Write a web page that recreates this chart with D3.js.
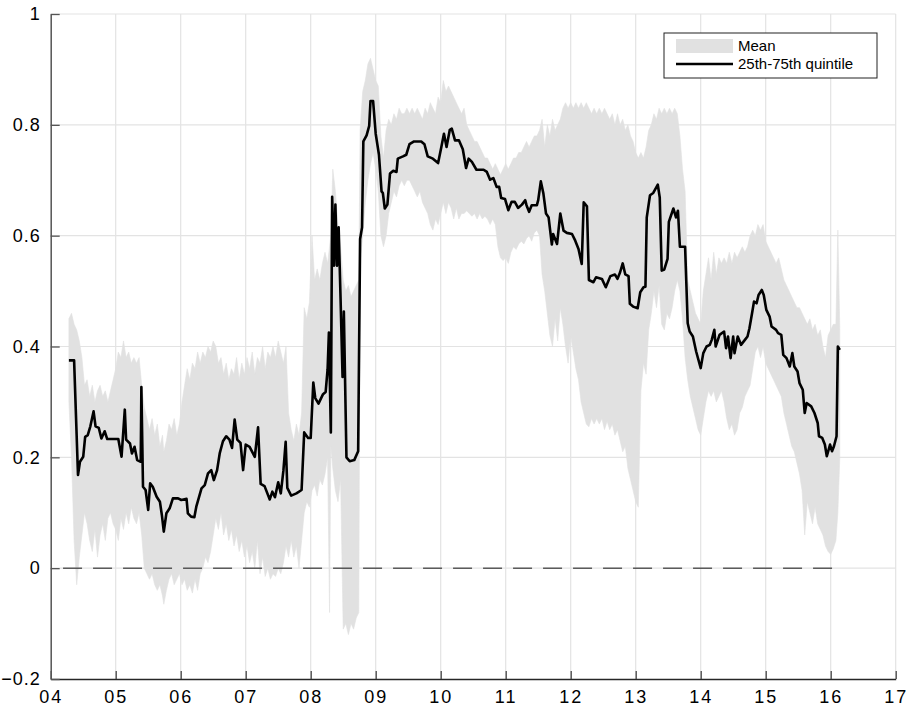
<!DOCTYPE html>
<html>
<head>
<meta charset="utf-8">
<script src="https://cdnjs.cloudflare.com/ajax/libs/d3/7.8.5/d3.min.js"></script>
<style>
  body { margin: 0; background: #fff; }
  svg text { font-family: "Liberation Sans", Arial, sans-serif; }
</style>
</head>
<body>
<div id="chart"></div>
<script>
// black line (decimal years / value)
var lineYears = [
  2004.28,2004.36,2004.42,2004.45,2004.50,2004.53,2004.57,2004.61,2004.66,2004.69,2004.74,2004.78,2004.83,2004.87,
  2005.04,2005.09,2005.14,2005.16,2005.22,2005.25,2005.29,2005.33,2005.385,2005.395,2005.42,2005.46,2005.50,2005.53,
  2005.57,2005.63,2005.68,2005.71,2005.74,2005.78,2005.83,2005.88,2005.96,2006.01,2006.09,2006.11,2006.16,2006.21,
  2006.24,2006.32,2006.37,2006.42,2006.47,2006.51,2006.56,2006.60,2006.65,2006.70,2006.75,2006.79,2006.83,2006.87,
  2006.92,2006.96,2007.00,2007.06,2007.14,2007.19,2007.23,2007.29,2007.37,2007.41,2007.45,2007.50,2007.54,2007.58,
  2007.615,2007.64,2007.70,2007.78,2007.86,2007.90,2007.96,2008.00,2008.04,2008.07,2008.12,2008.19,2008.23,2008.26,
  2008.28,2008.31,2008.33,2008.36,2008.38,2008.405,2008.43,2008.46,2008.49,2008.51,2008.55,2008.60,2008.67,2008.73,
  2008.76,2008.79,2008.81,2008.86,2008.90,2008.92,2008.96,2009.00,2009.05,2009.09,2009.11,2009.14,2009.18,2009.22,
  2009.27,2009.32,2009.34,2009.42,2009.47,2009.52,2009.59,2009.70,2009.75,2009.80,2009.88,2009.96,2010.01,2010.05,
  2010.09,2010.14,2010.17,2010.22,2010.28,2010.34,2010.39,2010.43,2010.48,2010.55,2010.66,2010.71,2010.76,2010.81,
  2010.86,2010.90,2010.93,2010.99,2011.04,2011.09,2011.14,2011.19,2011.25,2011.30,2011.32,2011.36,2011.40,2011.48,
  2011.50,2011.54,2011.58,2011.62,2011.66,2011.71,2011.73,2011.79,2011.84,2011.89,2011.94,2012.02,2012.07,2012.12,
  2012.17,2012.20,2012.25,2012.28,2012.35,2012.39,2012.48,2012.54,2012.61,2012.68,2012.72,2012.76,2012.80,2012.84,
  2012.89,2012.91,2012.96,2013.03,2013.07,2013.12,2013.15,2013.17,2013.22,2013.27,2013.34,2013.37,2013.40,2013.44,
  2013.49,2013.51,2013.58,2013.62,2013.65,2013.68,2013.76,2013.80,2013.83,2013.88,2013.93,2014.00,2014.04,2014.09,
  2014.14,2014.17,2014.21,2014.23,2014.29,2014.36,2014.39,2014.42,2014.46,2014.50,2014.52,2014.57,2014.62,2014.68,
  2014.72,2014.75,2014.79,2014.82,2014.86,2014.89,2014.94,2014.97,2015.01,2015.06,2015.09,2015.16,2015.19,2015.24,
  2015.27,2015.32,2015.37,2015.41,2015.44,2015.49,2015.52,2015.57,2015.60,2015.63,2015.70,2015.75,2015.80,2015.82,
  2015.87,2015.91,2015.94,2015.99,2016.02,2016.05,2016.09,2016.11,2016.14
];
var lineValues = [
  0.375,0.375,0.168,0.192,0.201,0.237,0.240,0.256,0.283,0.256,0.253,0.234,0.247,0.233,
  0.233,0.201,0.286,0.232,0.225,0.207,0.219,0.195,0.192,0.327,0.147,0.141,0.105,0.153,
  0.147,0.129,0.120,0.096,0.066,0.099,0.108,0.126,0.126,0.123,0.125,0.099,0.093,0.092,
  0.111,0.144,0.150,0.171,0.177,0.159,0.177,0.207,0.229,0.238,0.232,0.217,0.268,0.232,
  0.226,0.177,0.223,0.219,0.201,0.254,0.152,0.148,0.124,0.138,0.128,0.155,0.135,0.176,
  0.228,0.145,0.131,0.135,0.141,0.245,0.235,0.235,0.335,0.307,0.297,0.314,0.318,0.359,
  0.425,0.245,0.670,0.546,0.656,0.546,0.615,0.484,0.345,0.463,0.200,0.193,0.195,0.211,
  0.594,0.615,0.770,0.781,0.798,0.843,0.843,0.784,0.746,0.680,0.677,0.649,0.656,0.712,
  0.717,0.715,0.739,0.743,0.746,0.765,0.770,0.770,0.765,0.743,0.739,0.731,0.760,0.784,
  0.760,0.791,0.793,0.772,0.772,0.756,0.722,0.739,0.733,0.719,0.719,0.715,0.701,0.704,
  0.688,0.688,0.668,0.666,0.646,0.661,0.661,0.650,0.656,0.664,0.655,0.643,0.655,0.655,
  0.664,0.698,0.676,0.640,0.633,0.584,0.603,0.585,0.640,0.609,0.605,0.603,0.591,0.576,
  0.549,0.660,0.653,0.520,0.516,0.525,0.522,0.507,0.527,0.530,0.522,0.534,0.550,0.530,
  0.527,0.477,0.472,0.469,0.498,0.507,0.508,0.633,0.673,0.677,0.692,0.669,0.537,0.539,
  0.558,0.625,0.649,0.633,0.645,0.580,0.580,0.442,0.427,0.418,0.391,0.361,0.388,0.400,
  0.403,0.412,0.430,0.400,0.421,0.427,0.397,0.418,0.379,0.418,0.388,0.418,0.403,0.412,
  0.418,0.433,0.460,0.481,0.478,0.493,0.502,0.493,0.466,0.454,0.436,0.430,0.424,0.421,
  0.385,0.379,0.364,0.388,0.364,0.355,0.334,0.322,0.280,0.298,0.292,0.280,0.262,0.238,
  0.235,0.223,0.202,0.223,0.211,0.220,0.238,0.400,0.394
];

// grey band (decimal years / lower / upper)
var bandYears = [
  2004.28,2004.32,2004.36,2004.40,2004.44,2004.48,2004.52,2004.56,2004.60,2004.64,2004.68,2004.72,2004.76,2004.80,
  2004.84,2004.88,2004.92,2004.96,2005.00,2005.04,2005.08,2005.12,2005.16,2005.20,2005.24,2005.28,2005.32,2005.36,
  2005.40,2005.44,2005.48,2005.52,2005.56,2005.60,2005.64,2005.68,2005.72,2005.74,2005.78,2005.82,2005.86,2005.90,
  2005.94,2005.98,2006.02,2006.06,2006.10,2006.14,2006.18,2006.22,2006.26,2006.30,2006.34,2006.38,2006.42,2006.46,
  2006.50,2006.54,2006.58,2006.62,2006.66,2006.70,2006.74,2006.78,2006.82,2006.86,2006.90,2006.94,2006.98,2007.02,
  2007.06,2007.10,2007.14,2007.18,2007.22,2007.26,2007.30,2007.34,2007.38,2007.42,2007.46,2007.50,2007.54,2007.58,
  2007.62,2007.66,2007.70,2007.74,2007.78,2007.82,2007.86,2007.90,2007.94,2007.98,2008.02,2008.06,2008.10,2008.14,
  2008.18,2008.22,2008.26,2008.29,2008.31,2008.34,2008.38,2008.42,2008.46,2008.50,2008.54,2008.58,2008.62,2008.66,
  2008.70,2008.74,2008.76,2008.80,2008.84,2008.88,2008.92,2008.96,2009.00,2009.04,2009.08,2009.12,2009.16,2009.20,
  2009.24,2009.28,2009.32,2009.36,2009.40,2009.44,2009.48,2009.52,2009.56,2009.60,2009.64,2009.68,2009.72,2009.76,
  2009.80,2009.84,2009.88,2009.92,2009.96,2010.00,2010.04,2010.08,2010.12,2010.16,2010.20,2010.24,2010.28,2010.32,
  2010.36,2010.40,2010.44,2010.48,2010.52,2010.56,2010.60,2010.64,2010.68,2010.72,2010.76,2010.80,2010.84,2010.88,
  2010.92,2010.96,2011.00,2011.04,2011.08,2011.12,2011.16,2011.20,2011.24,2011.28,2011.32,2011.36,2011.40,2011.44,
  2011.48,2011.52,2011.56,2011.60,2011.64,2011.68,2011.72,2011.76,2011.80,2011.84,2011.88,2011.92,2011.96,2012.00,
  2012.04,2012.08,2012.12,2012.16,2012.20,2012.24,2012.28,2012.32,2012.36,2012.40,2012.44,2012.48,2012.52,2012.56,
  2012.60,2012.64,2012.68,2012.72,2012.76,2012.80,2012.84,2012.88,2012.92,2012.96,2013.00,2013.04,2013.08,2013.12,
  2013.16,2013.20,2013.24,2013.28,2013.32,2013.36,2013.40,2013.44,2013.48,2013.52,2013.56,2013.60,2013.64,2013.68,
  2013.72,2013.76,2013.80,2013.84,2013.88,2013.92,2013.96,2014.00,2014.04,2014.08,2014.12,2014.16,2014.20,2014.24,
  2014.28,2014.32,2014.36,2014.40,2014.44,2014.48,2014.52,2014.56,2014.60,2014.64,2014.68,2014.72,2014.76,2014.80,
  2014.84,2014.88,2014.92,2014.96,2015.00,2015.04,2015.08,2015.12,2015.16,2015.20,2015.24,2015.28,2015.32,2015.36,
  2015.40,2015.44,2015.48,2015.52,2015.56,2015.60,2015.64,2015.68,2015.72,2015.76,2015.80,2015.84,2015.88,2015.92,
  2015.96,2016.00,2016.04,2016.08,2016.11,2016.14
];
var bandLow = [
  0.30,0.20,0.05,-0.03,0.02,0.06,0.10,0.08,0.05,0.03,0.07,0.02,0.06,0.08,
  0.05,0.09,0.10,0.08,0.07,0.05,0.09,0.07,0.10,0.08,0.11,0.09,0.08,0.10,
  0.06,0.00,-0.01,-0.02,-0.01,-0.03,-0.04,-0.03,-0.05,-0.065,-0.04,-0.02,-0.01,-0.03,
  -0.02,-0.01,-0.03,-0.02,-0.04,-0.03,-0.045,-0.02,-0.04,-0.01,0.00,0.02,0.01,0.03,
  0.06,0.09,0.07,0.10,0.06,0.08,0.05,0.07,0.04,0.06,0.03,0.05,0.02,0.04,
  0.01,0.03,0.00,0.05,-0.01,0.02,-0.015,0.00,-0.02,-0.01,-0.015,0.00,-0.01,0.01,
  0.04,0.02,0.05,0.02,0.04,0.00,0.05,0.10,0.12,0.11,0.14,0.15,0.13,0.16,
  0.15,0.17,0.20,-0.08,0.22,0.18,0.14,0.12,0.16,-0.11,-0.10,-0.12,-0.10,-0.11,
  -0.09,-0.08,0.55,0.60,0.66,0.70,0.73,0.75,0.72,0.68,0.60,0.58,0.60,0.64,
  0.66,0.68,0.67,0.69,0.70,0.69,0.70,0.70,0.69,0.68,0.67,0.68,0.66,0.65,
  0.64,0.62,0.61,0.63,0.62,0.64,0.66,0.64,0.66,0.65,0.63,0.65,0.63,0.64,
  0.64,0.645,0.64,0.635,0.64,0.63,0.64,0.63,0.635,0.63,0.62,0.63,0.62,0.58,
  0.56,0.555,0.56,0.55,0.57,0.58,0.575,0.585,0.59,0.585,0.595,0.60,0.59,0.605,
  0.61,0.60,0.53,0.50,0.46,0.42,0.40,0.45,0.41,0.47,0.44,0.40,0.37,0.42,
  0.39,0.36,0.34,0.30,0.28,0.26,0.255,0.27,0.26,0.27,0.26,0.27,0.25,0.265,
  0.25,0.26,0.24,0.25,0.23,0.21,0.22,0.18,0.16,0.14,0.12,0.11,0.32,0.37,
  0.35,0.43,0.46,0.50,0.47,0.51,0.44,0.43,0.46,0.45,0.47,0.50,0.52,0.50,
  0.45,0.38,0.34,0.31,0.29,0.27,0.25,0.24,0.27,0.30,0.32,0.31,0.32,0.30,
  0.31,0.32,0.30,0.27,0.25,0.26,0.24,0.25,0.28,0.29,0.31,0.32,0.33,0.36,
  0.39,0.40,0.38,0.40,0.37,0.36,0.35,0.34,0.33,0.32,0.31,0.28,0.26,0.24,
  0.22,0.21,0.19,0.17,0.14,0.06,0.12,0.10,0.08,0.11,0.08,0.07,0.06,0.04,
  0.03,0.025,0.035,0.05,0.10,0.20
];
var bandHigh = [
  0.45,0.46,0.44,0.43,0.41,0.38,0.33,0.34,0.31,0.33,0.30,0.32,0.33,0.31,
  0.32,0.30,0.32,0.34,0.36,0.39,0.38,0.41,0.38,0.39,0.37,0.38,0.37,0.38,
  0.33,0.29,0.27,0.25,0.27,0.24,0.26,0.22,0.24,0.21,0.23,0.26,0.25,0.27,
  0.24,0.26,0.30,0.33,0.36,0.34,0.37,0.36,0.39,0.37,0.39,0.38,0.40,0.39,
  0.41,0.40,0.37,0.38,0.35,0.37,0.34,0.36,0.35,0.38,0.34,0.37,0.35,0.38,
  0.36,0.39,0.35,0.38,0.37,0.40,0.36,0.39,0.38,0.40,0.38,0.41,0.39,0.37,
  0.40,0.28,0.25,0.23,0.26,0.24,0.28,0.47,0.45,0.48,0.60,0.52,0.54,0.52,
  0.55,0.57,0.55,0.58,0.60,0.72,0.68,0.62,0.58,0.52,0.50,0.51,0.49,0.50,
  0.51,0.52,0.79,0.86,0.88,0.91,0.92,0.90,0.88,0.87,0.78,0.74,0.79,0.81,
  0.80,0.82,0.81,0.83,0.82,0.82,0.83,0.82,0.83,0.82,0.83,0.82,0.81,0.83,
  0.82,0.84,0.83,0.82,0.85,0.84,0.88,0.86,0.87,0.86,0.85,0.84,0.83,0.82,
  0.83,0.80,0.79,0.78,0.77,0.77,0.76,0.75,0.74,0.74,0.73,0.72,0.73,0.72,
  0.71,0.72,0.73,0.72,0.73,0.74,0.74,0.75,0.75,0.76,0.77,0.76,0.77,0.78,
  0.78,0.79,0.81,0.76,0.80,0.78,0.81,0.79,0.80,0.81,0.83,0.84,0.83,0.84,
  0.83,0.84,0.83,0.84,0.83,0.84,0.83,0.82,0.83,0.82,0.83,0.82,0.83,0.82,
  0.81,0.82,0.80,0.82,0.80,0.81,0.79,0.80,0.78,0.77,0.75,0.74,0.75,0.74,
  0.76,0.79,0.80,0.82,0.81,0.83,0.82,0.83,0.82,0.83,0.82,0.83,0.82,0.78,
  0.72,0.68,0.52,0.50,0.48,0.46,0.45,0.44,0.50,0.53,0.56,0.52,0.57,0.53,
  0.56,0.55,0.56,0.55,0.57,0.55,0.57,0.56,0.57,0.58,0.57,0.58,0.60,0.61,
  0.60,0.62,0.61,0.62,0.59,0.58,0.57,0.56,0.55,0.56,0.54,0.52,0.51,0.50,
  0.49,0.48,0.47,0.47,0.46,0.45,0.44,0.45,0.43,0.44,0.42,0.43,0.40,0.38,
  0.42,0.43,0.44,0.44,0.61,0.43
];

var xTickYears = [2004,2005,2006,2007,2008,2009,2010,2011,2012,2013,2014,2015,2016,2017];
var yTickValues = [-0.2, 0, 0.2, 0.4, 0.6, 0.8, 1];
var legendLabels = ["Mean", "25th-75th quintile"];

function init(){

    var w = 907;
    var h = 709;
    var left = 50.7, right = 895.7, top = 14, bottom = 679;

    var xScale = d3.scaleLinear().domain([2004, 2017]).range([left, right]);
    var yScale = d3.scaleLinear().domain([-0.2, 1]).range([bottom, top]);

    var svg = d3.select("#chart")
                .append("svg")
                .attr("width", w)
                .attr("height", h);

    // grid
    svg.append("g")
        .selectAll("line")
        .data(xTickYears.slice(1))
        .enter()
        .append("line")
            .attr("x1", function(d){ return xScale(d); })
            .attr("x2", function(d){ return xScale(d); })
            .attr("y1", top)
            .attr("y2", bottom)
            .attr("stroke", "#e3e3e3")
            .attr("stroke-width", 1.2);

    svg.append("g")
        .selectAll("line")
        .data(yTickValues.slice(1))
        .enter()
        .append("line")
            .attr("x1", left)
            .attr("x2", right)
            .attr("y1", function(d){ return yScale(d); })
            .attr("y2", function(d){ return yScale(d); })
            .attr("stroke", "#e3e3e3")
            .attr("stroke-width", 1.2);

    // band
    var band = bandYears.map(function(d, i){
        return { year: d, lo: bandLow[i], hi: bandHigh[i] };
    });

    var area = d3.area()
                .x(function(d){ return xScale(d.year); })
                .y0(function(d){ return yScale(d.lo); })
                .y1(function(d){ return yScale(d.hi); });

    svg.append("path")
        .datum(band)
        .attr("d", area)
        .attr("fill", "#e1e1e1")
        .attr("stroke", "#e1e1e1")
        .attr("stroke-width", 0.6);

    // zero line
    svg.append("line")
        .attr("x1", xScale(2004.19))
        .attr("x2", xScale(d3.max(lineYears)))
        .attr("y1", yScale(0))
        .attr("y2", yScale(0))
        .attr("stroke", "#111")
        .attr("stroke-width", 1)
        .attr("stroke-dasharray", "19,11");

    // line
    var pts = lineYears.map(function(d, i){ return [d, lineValues[i]]; });
    var line = d3.line()
                .x(function(d){ return xScale(d[0]); })
                .y(function(d){ return yScale(d[1]); });

    svg.append("path")
        .datum(pts)
        .attr("d", line)
        .attr("fill", "none")
        .attr("stroke", "#000")
        .attr("stroke-width", 2.6)
        .attr("stroke-linejoin", "round");

    // axes
    var xAxis = d3.axisBottom(xScale)
                .tickValues(xTickYears)
                .tickSizeInner(-8)
                .tickSizeOuter(0)
                .tickPadding(11)
                .tickFormat(function(d){ return String(d).slice(2); });

    var gx = svg.append("g")
        .attr("transform", "translate(0," + bottom + ")")
        .call(xAxis);
    gx.select(".domain").attr("stroke", "#262626").attr("stroke-width", 1.3);
    gx.selectAll(".tick line").attr("stroke", "#444").attr("stroke-width", 1.3);
    gx.selectAll("text")
        .attr("fill", "#000")
        .style("font-size", "18px")
        .style("letter-spacing", "2px");

    var yAxis = d3.axisLeft(yScale)
                .tickValues(yTickValues)
                .tickSizeInner(-9)
                .tickSizeOuter(0)
                .tickPadding(10)
                .tickFormat(function(d){ return d3.format("")(+d.toFixed(1)); });

    var gy = svg.append("g")
        .attr("transform", "translate(" + left + ",0)")
        .call(yAxis);
    gy.select(".domain").attr("stroke", "#555").attr("stroke-width", 1.5);
    gy.selectAll(".tick line").attr("stroke", "#555").attr("stroke-width", 1.3);
    gy.selectAll("text")
        .attr("fill", "#000")
        .style("font-size", "18px")
        .style("letter-spacing", "1px");

    //Legend
    var lg = svg.append("g").attr("transform", "translate(664,33)");
    lg.append("rect")
        .attr("width", 213).attr("height", 45)
        .attr("fill", "#fff").attr("stroke", "#222").attr("stroke-width", 1);
    lg.append("rect")
        .attr("x", 12).attr("y", 6).attr("width", 57).attr("height", 14)
        .attr("fill", "#e1e1e1");
    lg.append("line")
        .attr("x1", 12).attr("x2", 69).attr("y1", 31).attr("y2", 31)
        .attr("stroke", "#000").attr("stroke-width", 2.6);
    lg.selectAll("text")
        .data(legendLabels)
        .enter()
        .append("text")
            .attr("x", 74)
            .attr("y", function(d, i){ return 18 + i*18; })
            .style("font-size", "15px")
            .attr("fill", "#000")
            .text(function(d){ return d; });
}
window.onload = init;
</script>
</body>
</html>
